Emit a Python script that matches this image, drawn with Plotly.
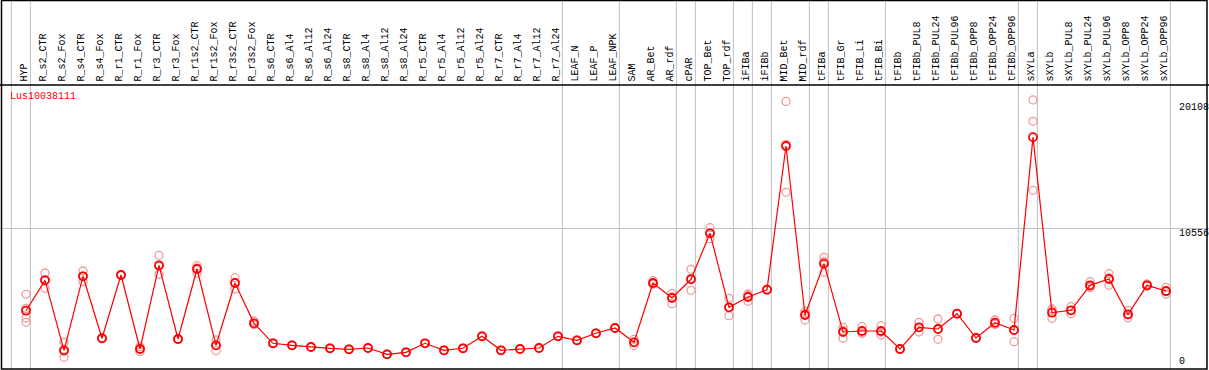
import plotly.graph_objects as go

samples = ["HYP", "R_s2_CTR", "R_s2_Fox", "R_s4_CTR", "R_s4_Fox", "R_r1_CTR", "R_r1_Fox",
           "R_r3_CTR", "R_r3_Fox", "R_r1s2_CTR", "R_r1s2_Fox", "R_r3s2_CTR", "R_r3s2_Fox",
           "R_s6_CTR", "R_s6_Al4", "R_s6_Al12", "R_s6_Al24", "R_s8_CTR", "R_s8_Al4", "R_s8_Al12",
           "R_s8_Al24", "R_r5_CTR", "R_r5_Al4", "R_r5_Al12", "R_r5_Al24", "R_r7_CTR", "R_r7_Al4",
           "R_r7_Al12", "R_r7_Al24", "LEAF_N", "LEAF_P", "LEAF_NPK", "SAM", "AR_Bet", "AR_rdf",
           "cPAR", "TOP_Bet", "TOP_rdf", "iFIBa", "iFIBb", "MID_Bet", "MID_rdf", "tFIBa",
           "tFIB_Gr", "tFIB_Li", "tFIB_Bi", "tFIBb", "tFIBb_PUL8", "tFIBb_PUL24", "tFIBb_PUL96",
           "tFIBb_OPP8", "tFIBb_OPP24", "tFIBb_OPP96", "sXYLa", "sXYLb", "sXYLb_PUL8",
           "sXYLb_PUL24", "sXYLb_PUL96", "sXYLb_OPP8", "sXYLb_OPP24", "sXYLb_OPP96"]

means = [4386, 6654, 1432, 6953, 2328, 7050, 1529, 7773, 2275, 7497, 1805, 6453, 3447,
         1955, 1805, 1679, 1582, 1507, 1604, 1134, 1283, 1955, 1432, 1582, 2477, 1432, 1529,
         1604, 2477, 2178, 2701, 3096, 2029, 6453, 5334, 6729, 10161, 4640, 5409, 5953,
         16673, 4066, 7893, 2798, 2872, 2872, 1529, 3148, 3021, 4163, 2350, 3491, 2947,
         17331, 4237, 4416, 6281, 6751, 4118, 6281, 5856]

replicates = [
    [5610, 4560, 3842, 3521], [7199, 6058, 6705], [2029, 910, 1357], [7348, 6550, 6961],
    [2350, 2300, 2334], [7080, 7020, 7050], [1701, 1328, 1558], [8519, 7102, 7698],
    [2300, 2250, 2275], [7743, 7177, 7571], [2201, 1402, 1812], [6848, 6005, 6506],
    [3618, 3380, 3343], [1980, 1930, 1955], [1830, 1780, 1805], [1700, 1660, 1679],
    [1600, 1560, 1586], [1530, 1490, 1501], [1620, 1590, 1602], [1150, 1120, 1132],
    [1300, 1270, 1279], [1975, 1935, 1955], [1450, 1410, 1436], [1600, 1565, 1581],
    [2500, 2455, 2476], [1450, 1415, 1431], [1550, 1510, 1527], [1620, 1585, 1607],
    [2500, 2455, 2476], [2200, 2160, 2174], [2720, 2680, 2703], [3120, 3075, 3093],
    [2253, 1805, 2029], [6624, 6356, 6379], [5685, 4909, 5408], [7475, 5908, 6804],
    [10578, 9758, 10147], [5312, 4013, 4595], [5632, 5088, 5507], [5990, 5920, 5950],
    [20000, 13219, 16800], [4342, 3693, 4163], [8370, 7251, 8058], [3148, 2328, 2918],
    [3193, 2701, 2722], [3267, 2574, 2775], [1560, 1500, 1527], [3521, 2798, 3125],
    [3767, 2253, 3043], [4190, 4140, 4159], [2380, 2320, 2350], [3693, 3420, 3360],
    [3820, 2074, 2947], [20108, 18516, 13368], [4513, 3820, 4378], [4685, 4163, 4400],
    [6550, 6102, 6191], [7147, 6281, 6825], [4416, 3864, 4074], [6378, 6250, 6215],
    [6132, 5632, 5804]]

# category index after which a grey separator is drawn
separators_after = [-1, 0, 28, 31, 34, 35, 37, 38, 39, 41, 42, 45, 52, 53, 60]

gene_name = "Lus10038111"
axis_ticks = [0, 10556, 20108]

W, H = 1209, 370
PX_PER_CAT = 19.0
FIRST_X = 26.0
xmin = -FIRST_X / PX_PER_CAT
xmax = xmin + W / PX_PER_CAT
PX_PER_UNIT = 141.5 / 10556
ymin = -0.5 / PX_PER_UNIT
ymax = ymin + H / PX_PER_UNIT

FONT = "Liberation Mono, DejaVu Sans Mono, monospace"
idx = list(range(len(samples)))

fig = go.Figure()

rx, ry = [], []
for i, reps in enumerate(replicates):
    for r in reps:
        rx.append(i)
        ry.append(r)
fig.add_trace(go.Scatter(x=rx, y=ry, mode="markers",
                         marker=dict(symbol="circle-open", size=8, color="#f09a9a",
                                     line=dict(width=1.3)),
                         hoverinfo="skip", showlegend=False))
fig.add_trace(go.Scatter(x=idx, y=means, mode="lines+markers",
                         line=dict(color="#ff0000", width=1.2),
                         marker=dict(symbol="circle-open", size=8, color="#ff0000",
                                     line=dict(width=1.8)),
                         text=samples, showlegend=False))

shapes = []
for s in separators_after:
    shapes.append(dict(type="line", xref="x", yref="paper", x0=s + 0.23, x1=s + 0.23,
                       y0=0, y1=1, line=dict(color="#c0c0c0", width=1), layer="below"))
# frame and label separator
shapes.append(dict(type="rect", xref="paper", yref="paper", x0=1.5 / W, x1=1 - 2 / W,
                   y0=1 - 369 / H, y1=1 - 0.5 / H, line=dict(color="black", width=1.5)))
shapes.append(dict(type="line", xref="paper", yref="paper", x0=0, x1=1,
                   y0=1 - 85 / H, y1=1 - 85 / H, line=dict(color="black", width=1.5)))

annotations = []
for i, name in enumerate(samples):
    annotations.append(dict(x=i, y=1 - 83 / H, xref="x", yref="paper", text=name,
                            textangle=-90, showarrow=False, xanchor="center", yanchor="bottom",
                            xshift=-2.5, font=dict(family=FONT, size=10, color="black"),
                            borderpad=0))
annotations.append(dict(x=9 / W, y=1 - 96 / H, xref="paper", yref="paper", text=gene_name,
                        showarrow=False, xanchor="left", yanchor="middle",
                        font=dict(family=FONT, size=10, color="#ff0000"), borderpad=0))
tick_anchor = {0: ("bottom", 2), 10556: ("top", 1), 20108: ("top", -1)}
for t in axis_ticks:
    ya, sh = tick_anchor[t]
    annotations.append(dict(x=1178 / W, y=t, xref="paper", yref="y", text=str(t),
                            showarrow=False, xanchor="left", yanchor=ya, yshift=sh,
                            font=dict(family=FONT, size=10, color="black"), borderpad=0))

fig.update_layout(width=W, height=H, margin=dict(l=0, r=0, t=0, b=0),
                  paper_bgcolor="white", plot_bgcolor="white",
                  xaxis=dict(range=[xmin, xmax], visible=False, showgrid=False, zeroline=False),
                  yaxis=dict(range=[ymin, ymax], showgrid=True, gridcolor="#c0c0c0", gridwidth=1,
                             tickvals=[10556], showticklabels=False, zeroline=False,
                             showline=False, ticks=""),
                  shapes=shapes, annotations=annotations, showlegend=False)

fig.write_html("out.html", config={"displayModeBar": False, "staticPlot": True},
               post_script="document.body.style.margin='0px';document.body.style.overflow='hidden';")
